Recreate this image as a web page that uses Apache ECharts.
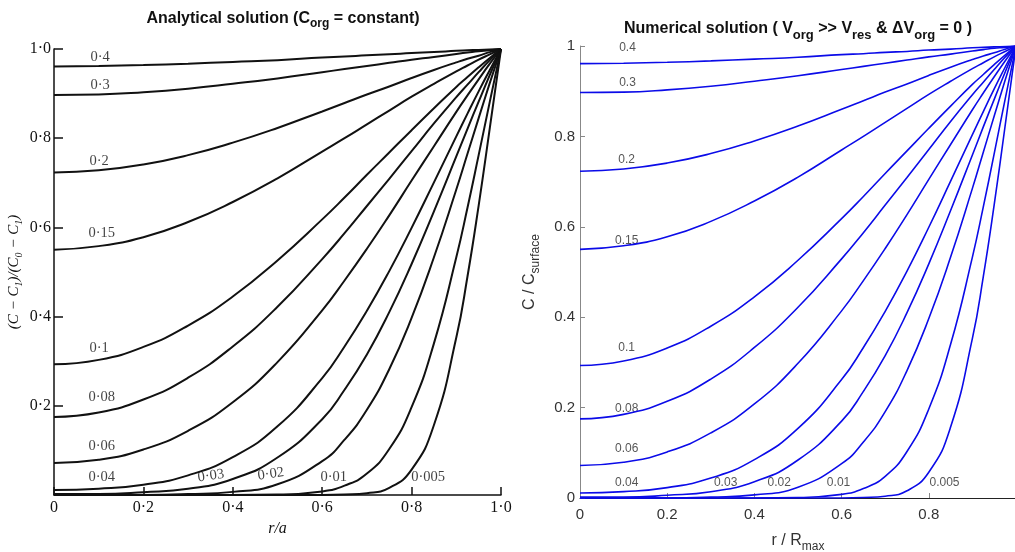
<!DOCTYPE html>
<html>
<head>
<meta charset="utf-8">
<script src="https://cdn.jsdelivr.net/npm/echarts/dist/echarts.min.js"></script>
<style>
  html, body { margin: 0; padding: 0; background: #fff; }
  #chart { width: 1015px; height: 552px; }
</style>
</head>
<body>
<div id="chart"></div>
<script>
// radial positions (r / a)
const rPos = [0, 0.1, 0.2, 0.3, 0.4, 0.5, 0.6, 0.65, 0.7, 0.75, 0.8, 0.85, 0.9, 0.925, 0.95, 0.975, 1]

// concentration, one array per Dt/a^2
const c040 = [0.961, 0.962, 0.964, 0.967, 0.971, 0.975, 0.981, 0.983, 0.986, 0.988, 0.991, 0.993, 0.996, 0.997, 0.998, 0.999, 1]
const c030 = [0.897, 0.898, 0.903, 0.911, 0.922, 0.934, 0.948, 0.955, 0.962, 0.969, 0.976, 0.982, 0.989, 0.992, 0.995, 0.997, 1]
const c020 = [0.723, 0.728, 0.741, 0.762, 0.790, 0.823, 0.860, 0.879, 0.898, 0.916, 0.935, 0.953, 0.970, 0.978, 0.985, 0.993, 1]
const c015 = [0.550, 0.558, 0.578, 0.612, 0.657, 0.710, 0.770, 0.800, 0.831, 0.862, 0.893, 0.922, 0.950, 0.963, 0.976, 0.988, 1]
const c010 = [0.293, 0.303, 0.332, 0.380, 0.445, 0.526, 0.618, 0.667, 0.718, 0.768, 0.818, 0.867, 0.915, 0.937, 0.959, 0.980, 1]
const c008 = [0.175, 0.185, 0.214, 0.263, 0.333, 0.422, 0.529, 0.587, 0.648, 0.709, 0.771, 0.833, 0.892, 0.920, 0.948, 0.975, 1]
const c006 = [0.072, 0.079, 0.102, 0.144, 0.208, 0.298, 0.414, 0.481, 0.552, 0.627, 0.705, 0.782, 0.859, 0.896, 0.932, 0.967, 1]
const c004 = [0.011, 0.014, 0.023, 0.044, 0.085, 0.154, 0.262, 0.333, 0.413, 0.502, 0.599, 0.701, 0.804, 0.855, 0.905, 0.953, 1]
const c003 = [0.002, 0.002, 0.006, 0.014, 0.036, 0.084, 0.170, 0.236, 0.315, 0.410, 0.518, 0.636, 0.759, 0.821, 0.882, 0.942, 1]
const c002 = [0, 0, 0, 0.002, 0.007, 0.024, 0.076, 0.124, 0.191, 0.282, 0.397, 0.533, 0.685, 0.765, 0.845, 0.924, 1]
const c001 = [0, 0, 0, 0, 0, 0.001, 0.008, 0.021, 0.048, 0.103, 0.197, 0.340, 0.533, 0.644, 0.762, 0.882, 1]
const c0005 = [0, 0, 0, 0, 0, 0, 0, 0.001, 0.004, 0.016, 0.057, 0.157, 0.353, 0.490, 0.649, 0.823, 1]

const curveValues = [c040, c030, c020, c015, c010, c008, c006, c004, c003, c002, c001, c0005]

// curve labels and where they sit (data units)
const leftLabels = ['0·4', '0·3', '0·2', '0·15', '0·1', '0·08', '0·06', '0·04', '0·03', '0·02', '0·01', '0·005']
const leftLabelX = [0.103, 0.103, 0.101, 0.107, 0.101, 0.107, 0.107, 0.107, 0.351, 0.485, 0.626, 0.837]
const leftLabelY = [0.982, 0.919, 0.749, 0.586, 0.330, 0.220, 0.110, 0.040, 0.043, 0.047, 0.040, 0.040]
const rightLabels = ['0.4', '0.3', '0.2', '0.15', '0.1', '0.08', '0.06', '0.04', '0.03', '0.02', '0.01', '0.005']
const rightLabelX = [0.109, 0.109, 0.107, 0.107, 0.107, 0.107, 0.107, 0.107, 0.334, 0.457, 0.593, 0.836]
const rightLabelY = [0.996, 0.918, 0.748, 0.569, 0.332, 0.197, 0.108, 0.033, 0.033, 0.033, 0.033, 0.033]

const SERIF = 'Liberation Serif, DejaVu Serif, serif'
const SANS = 'Liberation Sans, Arial, sans-serif'

const chart = echarts.init(document.getElementById('chart'))

function pairs(r, c) {
  return r.map((x, i) => [x, c[i]])
}

const series = []
curveValues.forEach(c => {
  series.push({
    type: 'line',
    xAxisIndex: 0,
    yAxisIndex: 0,
    data: pairs(rPos, c),
    showSymbol: false,
    smooth: 0.5,
    silent: true,
    lineStyle: { color: '#111', width: 2 }
  })
  series.push({
    type: 'line',
    xAxisIndex: 1,
    yAxisIndex: 1,
    data: pairs(rPos, c),
    showSymbol: false,
    smooth: 0.5,
    silent: true,
    lineStyle: { color: '#0b0be8', width: 1.6 }
  })
})

series.push({
  type: 'scatter',
  xAxisIndex: 0,
  yAxisIndex: 0,
  symbolSize: 1,
  itemStyle: { color: 'rgba(0,0,0,0)' },
  silent: true,
  data: leftLabels.map((t, i) => ({
    name: t,
    value: [leftLabelX[i], leftLabelY[i]],
    label: { rotate: (t === '0·03' || t === '0·02') ? 8 : 0 }
  })),
  label: {
    show: true,
    position: 'inside',
    formatter: '{b}',
    fontFamily: SERIF,
    fontSize: 14.5,
    color: '#111'
  }
})
series.push({
  type: 'scatter',
  xAxisIndex: 1,
  yAxisIndex: 1,
  symbolSize: 1,
  itemStyle: { color: 'rgba(0,0,0,0)' },
  silent: true,
  data: rightLabels.map((t, i) => ({ name: t, value: [rightLabelX[i], rightLabelY[i]] })),
  label: {
    show: true,
    position: 'inside',
    formatter: '{b}',
    fontFamily: SANS,
    fontSize: 12,
    color: '#2a2a2a'
  }
})

const dotFmt = v => (v === 0 ? '0' : v.toFixed(1).replace('.', '·'))

chart.setOption({
  animation: false,
  backgroundColor: '#fff',
  graphic: [
    {
      type: 'text',
      x: 283,
      y: 19,
      style: {
        text: '{b|Analytical solution (C}{s|org}{b| = constant)}',
        align: 'center',
        verticalAlign: 'middle',
        rich: {
          b: { fontFamily: SANS, fontSize: 16, fontWeight: 'bold', fill: '#111', lineHeight: 22, verticalAlign: 'middle' },
          s: { fontFamily: SANS, fontSize: 12, fontWeight: 'bold', fill: '#111', lineHeight: 22, verticalAlign: 'bottom' }
        }
      }
    },
    {
      type: 'text',
      x: 798,
      y: 29,
      style: {
        text: '{b|Numerical solution ( V}{s|org}{b| >> V}{s|res}{b| & ΔV}{s|org}{b| = 0 )}',
        align: 'center',
        verticalAlign: 'middle',
        rich: {
          b: { fontFamily: SANS, fontSize: 16, fontWeight: 'bold', fill: '#111', lineHeight: 26, verticalAlign: 'middle' },
          s: { fontFamily: SANS, fontSize: 13, fontWeight: 'bold', fill: '#111', lineHeight: 26, verticalAlign: 'bottom' }
        }
      }
    }
  ],
  grid: [
    { left: 54, top: 49, width: 447, height: 446, outerBoundsMode: 'none' },
    { left: 580, top: 46, width: 436, height: 452, outerBoundsMode: 'none' }
  ],
  xAxis: [
    {
      type: 'value',
      gridIndex: 0,
      min: 0,
      max: 1,
      interval: 0.2,
      splitLine: { show: false },
      axisLine: { lineStyle: { color: '#111', width: 1.5 } },
      axisTick: { inside: true, length: 8, lineStyle: { color: '#111', width: 1.5 } },
      axisLabel: { formatter: dotFmt, margin: 5, fontFamily: SERIF, fontSize: 16, color: '#111' },
      name: 'r/a',
      nameLocation: 'middle',
      nameGap: 22,
      nameTextStyle: { fontFamily: SERIF, fontStyle: 'italic', fontSize: 16, color: '#111' }
    },
    {
      type: 'value',
      gridIndex: 1,
      min: 0,
      max: 1,
      interval: 0.2,
      splitLine: { show: false },
      axisLine: { lineStyle: { color: '#222', width: 1 } },
      axisTick: { inside: true, length: 5, lineStyle: { color: '#888' } },
      axisLabel: { margin: 9, fontFamily: SANS, fontSize: 15, color: '#333', showMaxLabel: false },
      name: '{t|r / R}{s|max}',
      nameLocation: 'middle',
      nameGap: 31,
      nameTextStyle: {
        rich: {
          t: { fontFamily: SANS, fontSize: 16, color: '#333', lineHeight: 24, verticalAlign: 'middle' },
          s: { fontFamily: SANS, fontSize: 12, color: '#333', lineHeight: 24, verticalAlign: 'bottom' }
        }
      }
    }
  ],
  yAxis: [
    {
      type: 'value',
      gridIndex: 0,
      min: 0,
      max: 1,
      interval: 0.2,
      splitLine: { show: false },
      axisLine: { lineStyle: { color: '#111', width: 1.5 } },
      axisTick: { inside: true, length: 9, lineStyle: { color: '#111', width: 1.5 } },
      axisLabel: { formatter: v => (v === 0 ? '' : dotFmt(v)), margin: 3, fontFamily: SERIF, fontSize: 16, color: '#111' },
      name: '{i|(C − C}{s|1}{i|)/(C}{s|0}{i| − C}{s|1}{i|)}',
      nameLocation: 'middle',
      nameRotate: 90,
      nameGap: 30,
      nameTextStyle: {
        rich: {
          i: { fontFamily: SERIF, fontStyle: 'italic', fontSize: 15, color: '#111', lineHeight: 20, verticalAlign: 'middle' },
          s: { fontFamily: SERIF, fontStyle: 'italic', fontSize: 10, color: '#111', lineHeight: 20, verticalAlign: 'bottom' }
        }
      }
    },
    {
      type: 'value',
      gridIndex: 1,
      min: 0,
      max: 1,
      interval: 0.2,
      splitLine: { show: false },
      axisLine: { lineStyle: { color: '#888', width: 1 } },
      axisTick: { inside: true, length: 5, lineStyle: { color: '#888' } },
      axisLabel: { margin: 5, fontFamily: SANS, fontSize: 15, color: '#333' },
      name: '{t|C / C}{s|surface}',
      nameLocation: 'middle',
      nameRotate: 90,
      nameGap: 38,
      nameTextStyle: {
        rich: {
          t: { fontFamily: SANS, fontSize: 16, color: '#333', lineHeight: 24, verticalAlign: 'middle' },
          s: { fontFamily: SANS, fontSize: 12, color: '#333', lineHeight: 24, verticalAlign: 'bottom' }
        }
      }
    }
  ],
  series
})
</script>
</body>
</html>
